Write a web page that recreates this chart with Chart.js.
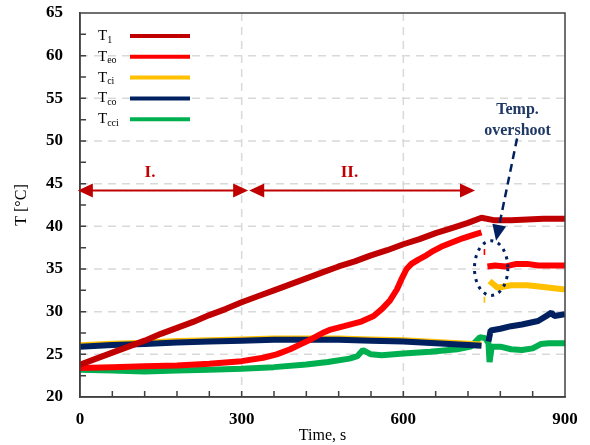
<!DOCTYPE html>
<html>
<head>
<meta charset="utf-8">
<script src="https://cdn.jsdelivr.net/npm/chart.js@4/dist/chart.umd.min.js"></script>
<style>
  html, body { margin: 0; padding: 0; background: #fff; }
  #wrap { width: 590px; height: 445px; }
</style>
</head>
<body>
<div id="wrap"><canvas id="c"></canvas></div>
<script>
// series: time (s) / temperature (°C); null = break in the line
const seriesNames = ['T', 'T', 'T', 'T', 'T'];
const seriesSubs = ['1', 'eo', 'ci', 'co', 'cci'];
const seriesColors = ['#c00000', '#ff0000', '#ffc000', '#002060', '#00b050'];

const tT1 = [0, 30, 60, 90, 120, 150, 180, 210, 240, 270, 300, 330, 360, 390, 420, 450, 480, 510, 540, 570, 600, 630, 660, 690, 720, 745, 770, 800, 830, 860, 900];
const vT1 = [23.8, 24.5, 25.2, 25.9, 26.6, 27.4, 28.1, 28.8, 29.6, 30.3, 31.1, 31.8, 32.5, 33.2, 33.9, 34.6, 35.3, 35.9, 36.6, 37.2, 37.9, 38.5, 39.2, 39.8, 40.4, 41.0, 40.7, 40.7, 40.8, 40.9, 40.9];

const tTeo = [0, 60, 120, 180, 240, 300, 340, 365, 390, 410, 430, 450, 465, 490, 520, 545, 560, 575, 588, 598, 606, 615, 628, 640, 655, 670, 690, 710, 730, 745, 747, 749, 752, 754, 756, 770, 790, 810, 830, 850, 870, 900];
const vTeo = [23.4, 23.5, 23.6, 23.7, 23.9, 24.2, 24.6, 25.0, 25.6, 26.2, 26.8, 27.5, 27.9, 28.3, 28.8, 29.5, 30.3, 31.3, 32.6, 34.0, 35.0, 35.6, 36.1, 36.5, 37.1, 37.6, 38.1, 38.6, 39.0, 39.3, null, 37.0, 37.0, null, 35.3, 35.4, 35.3, 35.6, 35.6, 35.4, 35.4, 35.4];

const tTci = [0, 60, 120, 180, 240, 300, 360, 420, 480, 540, 600, 660, 720, 745, 747, 749, 752, 755, 760, 775, 800, 830, 860, 900];
const vTci = [26.05, 26.25, 26.35, 26.55, 26.65, 26.75, 26.85, 26.85, 26.85, 26.75, 26.65, 26.45, 26.25, 26.15, null, 31.4, 31.4, null, 33.6, 32.8, 33.1, 33.1, 32.9, 32.6];

const tTco = [0, 60, 120, 180, 240, 300, 360, 420, 480, 540, 600, 660, 720, 745, 750, 758, 762, 780, 800, 820, 850, 868, 875, 880, 900];
const vTco = [25.9, 26.1, 26.2, 26.4, 26.5, 26.6, 26.7, 26.7, 26.7, 26.6, 26.5, 26.3, 26.1, 26.0, null, 26.5, 27.8, 28.0, 28.3, 28.5, 28.9, 29.6, 29.9, 29.5, 29.7];

const tTcci = [0, 60, 120, 180, 240, 300, 360, 420, 460, 500, 515, 525, 540, 560, 600, 650, 700, 725, 742, 752, 758, 760, 764, 780, 800, 820, 840, 855, 870, 900];
const vTcci = [23.2, 23.1, 23.0, 23.1, 23.2, 23.3, 23.5, 23.8, 24.1, 24.5, 24.8, 25.5, 25.0, 24.9, 25.1, 25.3, 25.6, 25.9, 27.0, 26.9, 26.3, 24.1, 25.9, 25.9, 25.6, 25.5, 25.7, 26.2, 26.3, 26.3];

const allTimes = [tT1, tTeo, tTci, tTco, tTcci];
const allValues = [vT1, vTeo, vTci, vTco, vTcci];
const drawOrder = [0, 1, 3, 2, 4];

const xTicks = [0, 300, 600, 900];
const yTicks = [20, 25, 30, 35, 40, 45, 50, 55, 60, 65];

const SERIF = '"Liberation Serif", "Times New Roman", serif';

function toPoints(ts, vs) {
    return ts.map((t, i) => ({ x: t, y: vs[i] }));
}

const datasets = seriesNames.map((n, i) => ({
    label: n + seriesSubs[i],
    data: toPoints(allTimes[i], allValues[i]),
    borderColor: seriesColors[i],
    backgroundColor: seriesColors[i],
    borderWidth: 6,
    borderJoinStyle: 'bevel',
    pointRadius: 0,
    tension: 0,
    spanGaps: false,
    order: drawOrder[i]
}));

// dashed grid under the data
const gridLines = {
    id: 'gridLines',
    beforeDatasetsDraw(chart) {
        const ctx = chart.ctx;
        const a = chart.chartArea;
        const xs = chart.scales.x, ys = chart.scales.y;
        ctx.save();
        ctx.strokeStyle = '#d9d9d9';
        ctx.lineWidth = 1.5;
        ctx.setLineDash([8, 6]);
        ctx.beginPath();
        xTicks.slice(1, -1).forEach(v => {
            const x = xs.getPixelForValue(v);
            ctx.moveTo(x, a.top); ctx.lineTo(x, a.bottom);
        });
        yTicks.slice(1, -1).forEach(v => {
            const y = ys.getPixelForValue(v);
            ctx.moveTo(a.left, y); ctx.lineTo(a.right, y);
        });
        ctx.stroke();
        ctx.restore();
    }
};

// frame, inward ticks, legend and annotations
const decorations = {
    id: 'decorations',
    afterDatasetsDraw(chart) {
        const ctx = chart.ctx;
        const a = chart.chartArea;
        const xs = chart.scales.x, ys = chart.scales.y;
        const px = v => xs.getPixelForValue(v);
        const py = v => ys.getPixelForValue(v);

        ctx.save();
        // frame
        ctx.strokeStyle = '#404040';
        ctx.lineWidth = 1.5;
        ctx.strokeRect(a.left, a.top, a.right - a.left, a.bottom - a.top);
        // inward minor ticks
        ctx.beginPath();
        for (let t = 60; t < 900; t += 60) {
            ctx.moveTo(px(t), a.bottom);
            ctx.lineTo(px(t), a.bottom - 6);
        }
        for (let v = 22.5; v < 65; v += 2.5) {
            ctx.moveTo(a.left, py(v));
            ctx.lineTo(a.left + 6, py(v));
        }
        ctx.stroke();

        // legend
        for (let i = 0; i < seriesNames.length; i++) {
            const y = a.top + 23 + i * 20.8;
            ctx.fillStyle = '#000';
            ctx.textBaseline = 'middle';
            ctx.textAlign = 'left';
            ctx.font = '15px ' + SERIF;
            const x0 = a.left + 18;
            ctx.fillText(seriesNames[i], x0, y);
            const w = ctx.measureText(seriesNames[i]).width;
            ctx.font = '10px ' + SERIF;
            ctx.fillText(seriesSubs[i], x0 + w, y + 4);
            ctx.strokeStyle = seriesColors[i];
            ctx.lineWidth = 4;
            ctx.beginPath();
            ctx.moveTo(a.left + 50, y);
            ctx.lineTo(a.left + 110, y);
            ctx.stroke();
        }

        // period arrows
        const red = '#c00000';
        const dblArrow = (x1, x2, y) => {
            const p1 = px(x1), p2 = px(x2), yy = py(y);
            ctx.strokeStyle = red;
            ctx.fillStyle = red;
            ctx.lineWidth = 2;
            ctx.beginPath();
            ctx.moveTo(p1 + 10, yy);
            ctx.lineTo(p2 - 10, yy);
            ctx.stroke();
            ctx.beginPath();
            ctx.moveTo(p1, yy); ctx.lineTo(p1 + 15, yy - 7); ctx.lineTo(p1 + 15, yy + 7); ctx.closePath();
            ctx.moveTo(p2, yy); ctx.lineTo(p2 - 15, yy - 7); ctx.lineTo(p2 - 15, yy + 7); ctx.closePath();
            ctx.fill();
        };
        dblArrow(-4, 312, 44.2);
        dblArrow(314, 733, 44.2);
        ctx.font = 'bold 17px ' + SERIF;
        ctx.fillStyle = red;
        ctx.textAlign = 'center';
        ctx.fillText('I.', px(130), py(46.3));
        ctx.fillText('II.', px(500), py(46.3));

        // overshoot note
        const navy = '#1f3864';
        ctx.fillStyle = navy;
        ctx.font = 'bold 16px ' + SERIF;
        ctx.fillText('Temp.', px(812), py(53.6));
        ctx.fillText('overshoot', px(812), py(51.2));

        const sx = px(811), sy = py(50.3), ex = px(772), ey = py(38.3);
        const ang = Math.atan2(ey - sy, ex - sx);
        ctx.strokeStyle = '#002060';
        ctx.lineWidth = 2.5;
        ctx.setLineDash([8, 5]);
        ctx.beginPath();
        ctx.moveTo(sx, sy);
        ctx.lineTo(ex - 14 * Math.cos(ang), ey - 14 * Math.sin(ang));
        ctx.stroke();
        ctx.setLineDash([]);
        ctx.fillStyle = '#002060';
        ctx.beginPath();
        ctx.moveTo(ex, ey);
        ctx.lineTo(ex - 16 * Math.cos(ang) + 7 * Math.sin(ang), ey - 16 * Math.sin(ang) - 7 * Math.cos(ang));
        ctx.lineTo(ex - 16 * Math.cos(ang) - 7 * Math.sin(ang), ey - 16 * Math.sin(ang) + 7 * Math.cos(ang));
        ctx.closePath();
        ctx.fill();

        // dotted ellipse
        const cx = px(763), cy = py(35.1);
        const rx = px(763 + 31) - cx, ry = cy - py(35.1 + 3.2);
        ctx.setLineDash([3, 5]);
        ctx.lineWidth = 3;
        ctx.beginPath();
        ctx.ellipse(cx, cy, rx, ry, 0, 0, Math.PI * 2);
        ctx.stroke();
        ctx.restore();
    }
};

new Chart(document.getElementById('c'), {
    type: 'line',
    data: { datasets: datasets },
    options: {
        responsive: true,
        maintainAspectRatio: false,
        animation: false,
        layout: { padding: { left: 0, right: 25, top: 13, bottom: 0 } },
        plugins: { legend: { display: false }, tooltip: { enabled: false } },
        scales: {
            x: {
                type: 'linear',
                min: 0, max: 900,
                afterBuildTicks: s => { s.ticks = xTicks.map(v => ({ value: v })); },
                afterFit: s => { s.height = 48; s.paddingLeft = 0; s.paddingRight = 0; },
                ticks: { color: '#000', padding: 12, maxRotation: 0, font: { family: SERIF, size: 17, weight: 'bold' } },
                grid: { display: false, drawTicks: false },
                border: { display: true, color: '#404040', width: 1.5 },
                title: { display: true, text: 'Time, s', color: '#000', padding: { top: 0, bottom: 0 }, font: { family: SERIF, size: 16 } }
            },
            y: {
                min: 20, max: 65,
                afterBuildTicks: s => { s.ticks = yTicks.map(v => ({ value: v })); },
                afterFit: s => { s.width = 80; s.paddingTop = 0; s.paddingBottom = 0; },
                ticks: { color: '#000', padding: 17, font: { family: SERIF, size: 17, weight: 'bold' } },
                grid: { display: false, drawTicks: false },
                border: { display: true, color: '#404040', width: 1.5 },
                title: { display: true, text: 'T [°C]', color: '#000', padding: { top: 12, bottom: 0 }, font: { family: SERIF, size: 16 } }
            }
        }
    },
    plugins: [gridLines, decorations]
});
</script>
</body>
</html>
